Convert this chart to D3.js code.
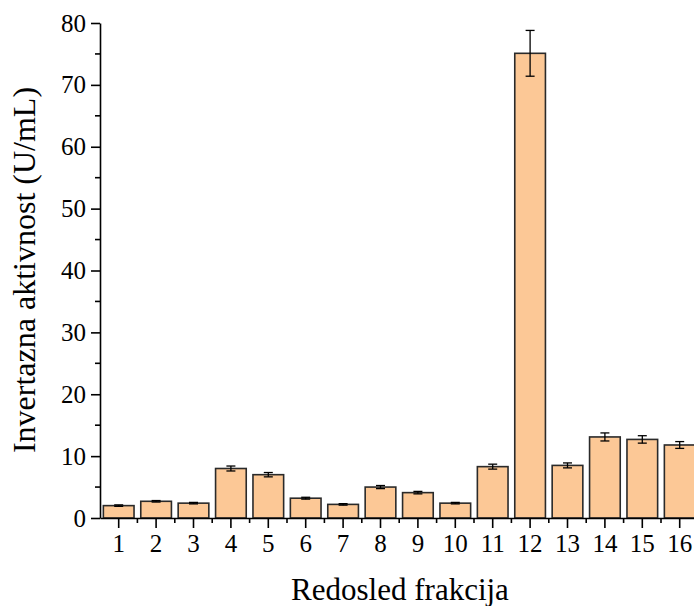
<!DOCTYPE html>
<html>
<head>
<meta charset="utf-8">
<script src="https://cdn.jsdelivr.net/npm/d3@7"></script>
<style>
  html, body { margin: 0; padding: 0; background: #fff; }
  svg { display: block; }
  text { font-family: "Liberation Serif", "Times New Roman", serif; fill: #000; }
</style>
</head>
<body>
<svg id="chart" width="694" height="606"></svg>
<script>
// Fraction order and measured invertase activity (U/mL) with standard deviations
const fractions = ["1","2","3","4","5","6","7","8","9","10","11","12","13","14","15","16"];
const activity  = [2.0, 2.7, 2.4, 8.0, 7.0, 3.2, 2.2, 5.0, 4.1, 2.4, 8.3, 75.1, 8.5, 13.1, 12.7, 11.8];
const stdDev    = [0.12, 0.12, 0.12, 0.4, 0.35, 0.15, 0.12, 0.25, 0.2, 0.12, 0.4, 3.7, 0.4, 0.65, 0.6, 0.55];
const yTicks    = [0, 10, 20, 30, 40, 50, 60, 70, 80];
const yMinor    = [5, 15, 25, 35, 45, 55, 65, 75];

const svg = d3.select("#chart");
const plotLeft = 100, plotTop = 23, plotBottom = 518, bandStep = 37.4;

const x = d3.scaleBand()
  .domain(fractions)
  .range([plotLeft, plotLeft + bandStep * fractions.length])
  .paddingInner(0.18)
  .paddingOuter(0.09);

const y = d3.scaleLinear().domain([0, 80]).range([plotBottom, plotTop]);

// Bars
svg.append("g").selectAll("rect")
  .data(fractions)
  .join("rect")
  .attr("x", d => x(d))
  .attr("y", (d, i) => y(activity[i]))
  .attr("width", x.bandwidth())
  .attr("height", (d, i) => y(0) - y(activity[i]))
  .attr("fill", "#fcc896")
  .attr("stroke", "#2a2a2a")
  .attr("stroke-width", 1.6);

// Error bars
const eb = svg.append("g").attr("stroke", "#000").attr("stroke-width", 1.3);
fractions.forEach((d, i) => {
  const cx = x(d) + x.bandwidth() / 2;
  const hi = y(activity[i] + stdDev[i]);
  const lo = y(activity[i] - stdDev[i]);
  eb.append("line").attr("x1", cx).attr("x2", cx).attr("y1", hi).attr("y2", lo);
  eb.append("line").attr("x1", cx - 4.5).attr("x2", cx + 4.5).attr("y1", hi).attr("y2", hi);
  eb.append("line").attr("x1", cx - 4.5).attr("x2", cx + 4.5).attr("y1", lo).attr("y2", lo);
});

// Y axis
const yAxis = svg.append("g")
  .attr("transform", `translate(${plotLeft},0)`)
  .call(d3.axisLeft(y).tickValues(yTicks).tickSize(9).tickPadding(5).tickSizeOuter(0));
yAxis.select(".domain").attr("stroke", "#000").attr("stroke-width", 1.6);
yAxis.selectAll(".tick line").attr("stroke-width", 1.6);
yAxis.selectAll("text").attr("font-size", 25);
yAxis.append("g").selectAll("line")
  .data(yMinor)
  .join("line")
  .attr("x1", 0).attr("x2", -5)
  .attr("y1", d => y(d)).attr("y2", d => y(d))
  .attr("stroke", "#000").attr("stroke-width", 1.6);

// X axis
const xAxis = svg.append("g")
  .attr("transform", `translate(0,${plotBottom})`)
  .call(d3.axisBottom(x).tickSize(10).tickPadding(6).tickSizeOuter(0));
xAxis.select(".domain").attr("stroke", "#000").attr("stroke-width", 1.6);
xAxis.selectAll(".tick line").attr("stroke-width", 1.6);
xAxis.selectAll("text").attr("font-size", 25);
xAxis.append("g").selectAll("line")
  .data(d3.range(1, fractions.length + 1))
  .join("line")
  .attr("x1", i => plotLeft + i * x.step()).attr("x2", i => plotLeft + i * x.step())
  .attr("y1", 0).attr("y2", 5)
  .attr("stroke", "#000").attr("stroke-width", 1.6);

// Axis titles
svg.append("text")
  .attr("x", 400).attr("y", 600)
  .attr("text-anchor", "middle")
  .attr("font-size", 31)
  .text("Redosled frakcija");

svg.append("text")
  .attr("transform", "translate(35,270) rotate(-90)")
  .attr("text-anchor", "middle")
  .attr("font-size", 32)
  .text("Invertazna aktivnost (U/mL)");
</script>
</body>
</html>
